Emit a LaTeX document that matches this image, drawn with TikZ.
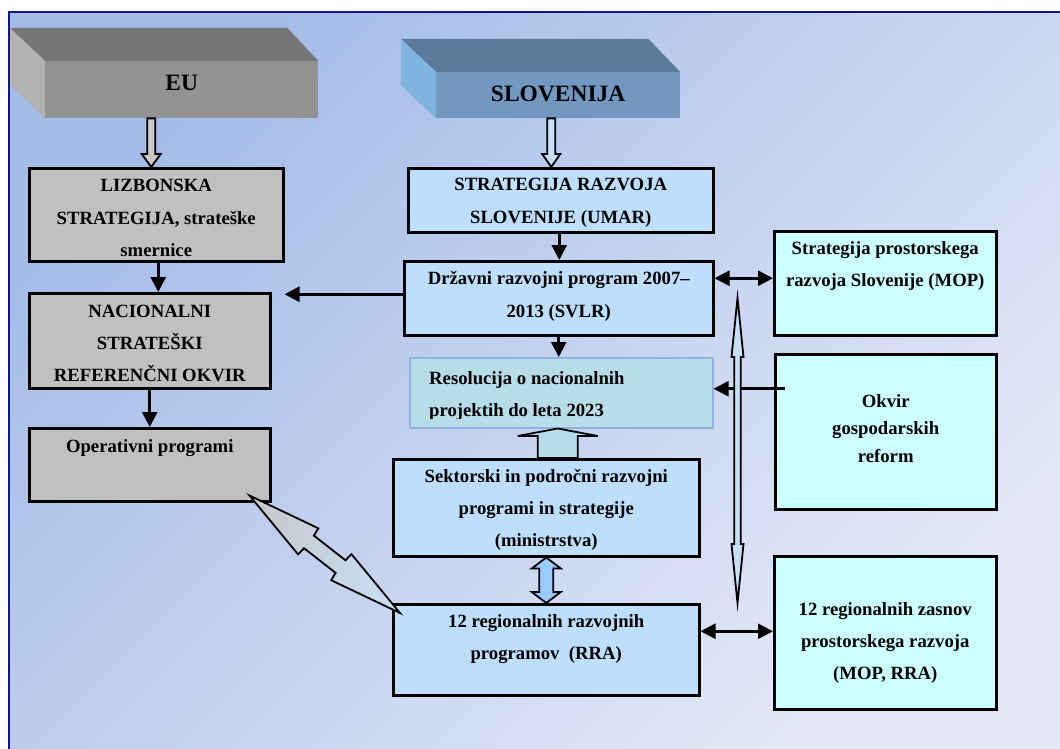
\documentclass[tikz,border=0pt]{standalone}
\usepackage{fontspec}
\setmainfont{Liberation Serif}
\usetikzlibrary{arrows.meta,calc}

\definecolor{bgA}{RGB}{164,188,232}
\definecolor{bgB}{RGB}{230,234,247}
\definecolor{framec}{RGB}{20,20,140}
\definecolor{grayfill}{RGB}{192,192,192}
\definecolor{bluefill}{RGB}{189,222,253}
\definecolor{cyanfill}{RGB}{204,255,255}
\definecolor{tealfill}{RGB}{183,221,232}
\definecolor{tealedge}{RGB}{142,180,227}
\definecolor{euTop}{RGB}{118,118,118}
\definecolor{euFront}{RGB}{147,147,147}
\definecolor{euSide}{RGB}{178,178,178}
\definecolor{slTop}{RGB}{92,123,155}
\definecolor{slFront}{RGB}{114,152,194}
\definecolor{slSide}{RGB}{127,179,224}
\definecolor{arrGray}{RGB}{200,200,200}
\definecolor{arrBlue}{RGB}{198,224,248}
\definecolor{arrMid}{RGB}{153,204,255}

\tikzset{
  box/.style={draw=black, line width=2.5pt, inner sep=0pt, anchor=north west},
  txt/.style={font=\fontsize{18.7}{32.3}\selectfont\bfseries, align=center, inner sep=0pt, anchor=north},
  title/.style={font=\fontsize{23.5}{28}\selectfont\bfseries, inner sep=0pt, anchor=base},
  face/.style={inner sep=0pt, anchor=north west},
  conn/.style={line width=2.6pt, -{Triangle[length=15pt,width=15pt]}},
  biconn/.style={line width=2.6pt, {Triangle[length=15pt,width=15pt]}-{Triangle[length=15pt,width=15pt]}},
  blockarrow/.style={draw=black, line width=1.8pt, line join=miter},
}

% single block arrow: style, tail, tip, shaft half width, head half width, head length
\newcommand\vblock[6]{%
  \draw[#1] let \p1=(#2), \p2=(#3) in
    ({\x2-#4},\y1) -- ({\x2-#4},{\y2+(#6)}) -- ({\x2-#5},{\y2+(#6)}) -- (\x2,\y2)
    -- ({\x2+#5},{\y2+(#6)}) -- ({\x2+#4},{\y2+(#6)}) -- ({\x2+#4},\y1) -- cycle;}
% double block arrow (vertical): style, upper end, lower end, shaft half, head half, head length
\newcommand\dblock[6]{%
  \draw[#1] let \p1=(#2), \p2=(#3) in
    (\x1,\y1) -- ({\x1+#5},{\y1-#6}) -- ({\x1+#4},{\y1-#6}) -- ({\x1+#4},{\y2+#6})
    -- ({\x1+#5},{\y2+#6}) -- (\x1,\y2) -- ({\x1-#5},{\y2+#6}) -- ({\x1-#4},{\y2+#6})
    -- ({\x1-#4},{\y1-#6}) -- ({\x1-#5},{\y1-#6}) -- cycle;}

\begin{document}
\begin{tikzpicture}[x=1pt,y=-1pt]
\useasboundingbox (0,0) rectangle (1060,749);
\clip (0,0) rectangle (1060,749);
\fill[white] (0,0) rectangle (1060,749);

% background panel
\shade[top color=bgA, bottom color=bgB, shading angle=45] (9,12) rectangle (1080,770);
\draw[framec, line width=2pt] (1080,12) -- (9,12) -- (9,770);

% EU block
\node[face, fill=euFront, minimum width=273pt, minimum height=57pt] (eu) at (45,61) {};
\fill[euTop] ([shift={(-35pt,33pt)}]eu.north west) -- ([shift={(-31pt,33pt)}]eu.north east)
  -- (eu.north east) -- (eu.north west) -- cycle;
\fill[euSide] (eu.north west) -- ([shift={(-35pt,33pt)}]eu.north west)
  -- ([shift={(-35pt,33pt)}]eu.south west) -- (eu.south west) -- cycle;
\node[title] (eu-t) at ([yshift=-1.2pt]eu.center) {EU};

% SLOVENIJA block
\node[face, fill=slFront, minimum width=244pt, minimum height=46pt] (slo) at (436,72) {};
\fill[slTop] ([shift={(-35pt,33pt)}]slo.north west) -- ([shift={(-32pt,33pt)}]slo.north east)
  -- (slo.north east) -- (slo.north west) -- cycle;
\fill[slSide] (slo.north west) -- ([shift={(-35pt,33pt)}]slo.north west)
  -- ([shift={(-35pt,33pt)}]slo.south west) -- (slo.south west) -- cycle;
\node[title] (slo-t) at ([yshift=-6pt]slo.center) {SLOVENIJA};

% left column
\node[box, fill=grayfill, minimum width=254pt, minimum height=93pt] (lizb) at (28,167) {};
\node[txt] (lizb-t) at ([yshift=-12.4pt]lizb.north) {LIZBONSKA\\STRATEGIJA, strateške\\smernice};
\node[box, fill=grayfill, minimum width=241pt, minimum height=95pt] (nsro) at (28,292) {};
\node[txt] (nsro-t) at ([yshift=-12.6pt]nsro.north) {NACIONALNI\\STRATEŠKI\\REFERENČNI OKVIR};
\node[box, fill=grayfill, minimum width=241pt, minimum height=73pt] (op) at (28,427) {};
\node[txt] (op-t) at ([yshift=-12.8pt]op.north) {Operativni programi};

% middle column
\node[box, fill=bluefill, minimum width=305pt, minimum height=64pt] (sr) at (407,167) {};
\node[txt] (sr-t) at ([yshift=-11.3pt]sr.north) {STRATEGIJA RAZVOJA\\SLOVENIJE (UMAR)};
\node[box, fill=bluefill, minimum width=309pt, minimum height=74pt] (drp) at (403,260) {};
\node[txt] (drp-t) at ([yshift=-11.5pt]drp.north) {Državni razvojni program 2007–\\2013 (SVLR)};
\node[box, draw=tealedge, line width=1.5pt, fill=tealfill, minimum width=303pt, minimum height=70pt] (res) at (409,357) {};
\begin{scope}
  \clip (res.north west) rectangle ([yshift=10pt]res.south east);
  \node[txt, align=left, anchor=north west] (res-t) at ([xshift=20pt,yshift=-14.2pt]res.north west)
    {Resolucija o nacionalnih\\projektih do leta 2023};
\end{scope}
\node[box, fill=bluefill, minimum width=306pt, minimum height=97pt] (sek) at (392,458) {};
\node[txt] (sek-t) at ([yshift=-11pt]sek.north) {Sektorski in področni razvojni\\programi in strategije\\(ministrstva)};
\node[box, fill=bluefill, minimum width=306pt, minimum height=91pt] (rrp) at (392,603) {};
\node[txt] (rrp-t) at ([yshift=-11.5pt]rrp.north) {12 regionalnih razvojnih\\programov~~(RRA)};

% right column
\node[box, fill=cyanfill, minimum width=222pt, minimum height=104pt] (spr) at (773,230) {};
\node[txt] (spr-t) at ([yshift=-11.2pt]spr.north) {Strategija prostorskega\\razvoja Slovenije (MOP)};
\node[box, fill=cyanfill, minimum width=221pt, minimum height=155pt] (okv) at (774,353) {};
\node[txt, font=\fontsize{18.7}{27.5}\selectfont\bfseries] (okv-t) at ([yshift=-40.9pt]okv.north) {Okvir\\gospodarskih\\reform};
\node[box, fill=cyanfill, minimum width=222pt, minimum height=153pt] (rzp) at (773,555) {};
\node[txt] (rzp-t) at ([yshift=-47.2pt]rzp.north) {12 regionalnih zasnov\\prostorskega razvoja\\(MOP, RRA)};

% plain connectors
\coordinate (lizbS) at ([xshift=2pt]lizb.south);
\draw[conn] (lizbS) -- (lizbS |- nsro.north);
\draw[conn] (nsro.south) -- (op.north);
\coordinate (srS) at ([xshift=-1.5pt]sr.south);
\draw[conn] (srS) -- (srS |- drp.north);
\draw[conn] (drp.south) -- (drp.south |- res.north);
\coordinate (drpW) at ([yshift=4pt]drp.west);
\coordinate (nsroR) at ([xshift=13pt]nsro.east);
\draw[conn] (drpW) -- (drpW -| nsroR);
\coordinate (sprW) at ([yshift=5pt]spr.west);
\draw[biconn] (sprW -| drp.east) -- (sprW);
\coordinate (resE) at ([yshift=4pt]res.east);
\coordinate (okvIn) at ([xshift=11pt]okv.west);
\draw[conn] (resE -| okvIn) -- (resE);
\coordinate (rzpW) at ([yshift=1.5pt]rzp.west);
\draw[biconn] (rzpW -| rrp.east) -- (rzpW);

% block arrows
\coordinate (euTip) at ([xshift=-5pt]lizb.north);
\vblock{blockarrow, fill=arrGray}{eu.south}{euTip}{4pt}{9.5pt}{13pt}
\coordinate (sloTip) at ([xshift=-9.5pt]sr.north);
\vblock{blockarrow, fill=arrBlue}{slo.south}{sloTip}{4pt}{9pt}{13pt}
\coordinate (upTip) at ([xshift=-3.5pt]res.south);
\vblock{blockarrow, fill=tealfill}{sek.north}{upTip}{20pt}{40pt}{-7.5pt}
\dblock{blockarrow, fill=arrMid}{sek.south}{rrp.north}{7pt}{14.5pt}{11pt}
\coordinate (vTop) at (737.5,298);
\coordinate (vBot) at (737.5,603);
\dblock{blockarrow, fill=arrBlue}{vTop}{vBot}{3.2pt}{6pt}{59pt}

% double arrow between the operational programmes and the regional programmes
\coordinate (lA) at ([xshift=-22pt,yshift=7pt]op.south east);
\coordinate (lB) at ([xshift=8pt,yshift=-10pt]rrp.north west);
\draw[blockarrow, left color=arrGray, right color=arrBlue]
  (lA) -- ($(lA)!0.39!(lB)!16.5pt!90:(lB)$) -- ($(lA)!0.395!(lB)!8pt!90:(lB)$)
  -- ($(lA)!0.605!(lB)!8pt!90:(lB)$) -- ($(lA)!0.61!(lB)!16.5pt!90:(lB)$) -- (lB)
  -- ($(lA)!0.61!(lB)!16.5pt!-90:(lB)$) -- ($(lA)!0.605!(lB)!8pt!-90:(lB)$)
  -- ($(lA)!0.395!(lB)!8pt!-90:(lB)$) -- ($(lA)!0.39!(lB)!16.5pt!-90:(lB)$) -- cycle;
\end{tikzpicture}
\end{document}
